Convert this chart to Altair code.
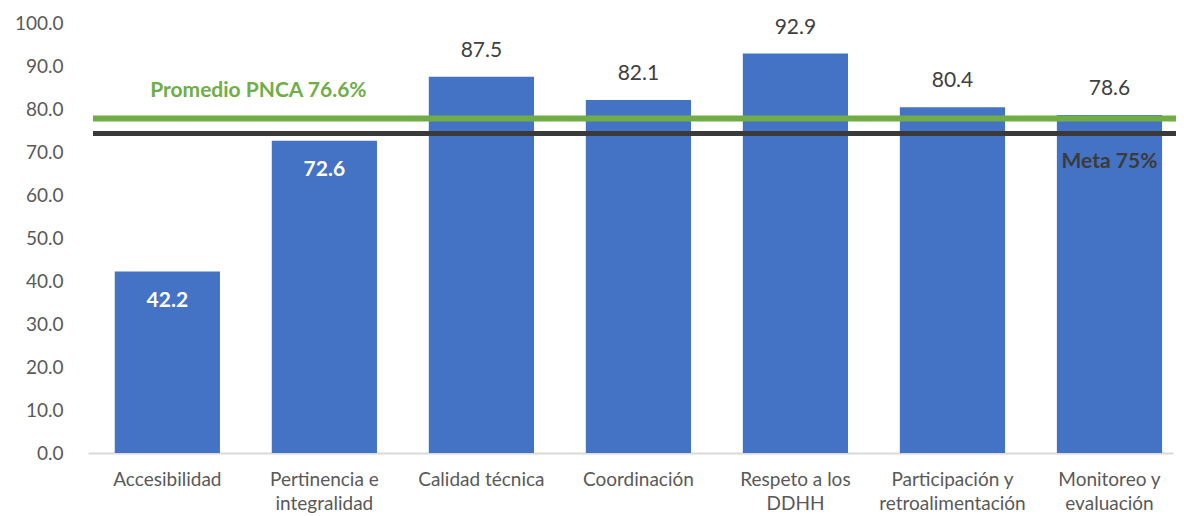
import altair as alt
import pandas as pd

categories = ["Accesibilidad", "Pertinencia e integralidad", "Calidad técnica",
              "Coordinación", "Respeto a los DDHH",
              "Participación y retroalimentación", "Monitoreo y evaluación"]
values = [42.2, 72.6, 87.5, 82.1, 92.9, 80.4, 78.6]
label_lines = [["Accesibilidad"], ["Pertinencia e", "integralidad"], ["Calidad técnica"],
               ["Coordinación"], ["Respeto a los", "DDHH"],
               ["Participación y", "retroalimentación"], ["Monitoreo y", "evaluación"]]
y_ticks = [0, 10, 20, 30, 40, 50, 60, 70, 80, 90, 100]

promedio_label = "Promedio PNCA 76.6%"
promedio_line = 77.8
promedio_label_y = 84.3
meta_label = "Meta 75%"
meta_line = 74.3
meta_label_y = 67.6
inside_threshold = 75

FONT = "Lato"
BLUE = "#4472C4"
GREEN = "#70AD47"
DARK = "#3A3A3A"

df = pd.DataFrame({"cat": categories, "val": values})

# label expression for multi-line axis labels
parts = []
for c, lines in zip(categories, label_lines):
    arr = "[" + ",".join("'" + l + "'" for l in lines) + "]"
    parts.append(f"datum.label == '{c}' ? {arr} : ")
label_expr = "".join(parts) + "datum.label"

x_enc = alt.X("cat:N", sort=categories, title=None,
              scale=alt.Scale(paddingInner=0.33, paddingOuter=0.12, align=0.71),
              axis=alt.Axis(labelAngle=0, labelExpr=label_expr, labelFont=FONT,
                            labelFontSize=19, labelColor="#595959", labelLineHeight=24,
                            labelPadding=17, labelBaseline="top", ticks=False,
                            domainColor="#D9D9D9", domainWidth=2, labelLimit=300))
y_enc = alt.Y("val:Q", title=None,
              scale=alt.Scale(domain=[0, 100], nice=False),
              axis=alt.Axis(values=y_ticks, format=".1f", grid=False, domain=False,
                            ticks=False, labelFont=FONT, labelFontSize=19,
                            labelColor="#595959", labelPadding=25))

base = alt.Chart(df)
bars = base.mark_bar(color=BLUE).encode(x=x_enc, y=y_enc)

outside = base.transform_filter(f"datum.val >= {inside_threshold}").mark_text(
    font=FONT, fontSize=21, color="#404040", dy=-26, baseline="middle"
).encode(x=alt.X("cat:N", sort=categories), y="val:Q", text=alt.Text("val:Q", format=".1f"))

inside = base.transform_filter(f"datum.val < {inside_threshold}").mark_text(
    font=FONT, fontSize=21, fontWeight="bold", color="white", dy=29, baseline="middle"
).encode(x=alt.X("cat:N", sort=categories), y="val:Q", text=alt.Text("val:Q", format=".1f"))

green_rule = alt.Chart(pd.DataFrame({"v": [promedio_line]})).mark_rule(
    color=GREEN, strokeWidth=6
).encode(y="v:Q", x=alt.value(5), x2=alt.value(1090))

black_rule = alt.Chart(pd.DataFrame({"v": [meta_line]})).mark_rule(
    color=DARK, strokeWidth=5
).encode(y="v:Q", x=alt.value(5), x2=alt.value(1090))

green_text = alt.Chart(pd.DataFrame({"cat": [categories[0]], "v": [promedio_label_y],
                                     "t": [promedio_label]})).mark_text(
    font=FONT, fontSize=21, fontWeight="bold", color=GREEN, dx=91, baseline="middle"
).encode(x=alt.X("cat:N", sort=categories), y="v:Q", text="t:N")

meta_text = alt.Chart(pd.DataFrame({"cat": [categories[6]], "v": [meta_label_y],
                                    "t": [meta_label]})).mark_text(
    font=FONT, fontSize=21, fontWeight="bold", color="#3B3B3B", baseline="middle"
).encode(x=alt.X("cat:N", sort=categories), y="v:Q", text="t:N")

chart = alt.layer(bars, green_rule, black_rule, outside, inside, green_text, meta_text).properties(
    width=1085, height=430,
    autosize=alt.AutoSizeParams(type="none"),
    padding={"left": 80, "top": 15, "right": 3, "bottom": 62},
).configure_view(stroke=None)

chart.save("out.html", embed_options={"renderer": "svg", "actions": False})
